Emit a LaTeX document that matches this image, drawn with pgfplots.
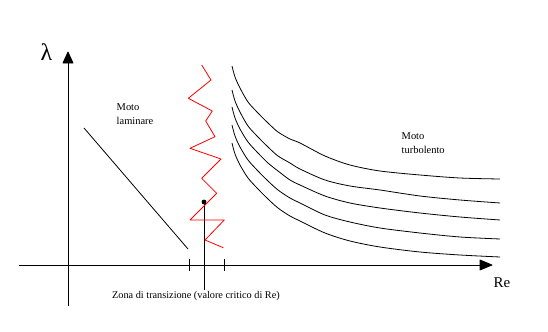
\documentclass[border=0pt]{standalone}
\usepackage{pgfplots}
\pgfplotsset{compat=1.18}
\usepackage{fontspec}
\setmainfont{Liberation Serif}
\begin{document}
\begin{tikzpicture}
\begin{axis}[
  width=548bp, height=332bp, scale only axis,
  xmin=0, xmax=548, ymin=0, ymax=332, y dir=reverse,
  hide axis, clip=false,
  every axis plot/.append style={line width=0.8bp, line join=round},
]
% bounding box
\addplot[draw=none] coordinates {(0,0) (548,332)};
% axes
\addplot[black, line width=1bp] coordinates {(19,265) (482,265)};
\addplot[black, line width=1bp] coordinates {(68,306) (68,60)};
\addplot[black, fill=black] coordinates {(480,260) (492,265) (480,270)} -- cycle;
\addplot[black, fill=black] coordinates {(63,63) (68,52) (73,63)} -- cycle;
% ticks
\addplot[black] coordinates {(189.5,259) (189.5,271)};
\addplot[black] coordinates {(224.5,259) (224.5,271)};
% critical line
\addplot[black] coordinates {(204,202) (204,290)};
\addplot[only marks, mark=*, mark size=2bp, black] coordinates {(204,202)};
% laminar
\addplot[black] coordinates {(84,128) (188,249)};
% transition zigzag
\addplot[red] coordinates {(201.7,65) (211,80) (188.3,98.3) (212.3,111) (205.7,121) (215,136.7) (190,148.3) (221,159) (201.7,178.3) (216.7,193.3) (190,220) (224.3,220) (205,240) (223.3,247.7)};
% turbulent curves
\addplot[black, smooth, tension=0.5] coordinates {(232,66) (235,77) (240,88) (248,102) (258,113) (268,123) (278,132) (290,139) (300,143) (325,156) (350,165) (380,171) (420,175) (460,178) (500,179)};
\addplot[black, smooth, tension=0.5] coordinates {(232,90) (235,101) (240,112) (248,126) (258,137) (268,147) (278,156) (290,163) (300,169) (325,180) (350,186) (380,190) (420,196) (460,200) (500,203)};
\addplot[black, smooth, tension=0.5] coordinates {(232,107) (235,118) (240,129) (248,142) (258,153) (268,163) (278,171) (290,180) (300,185) (325,196) (350,203) (380,208) (420,213) (460,217) (500,220)};
\addplot[black, smooth, tension=0.5] coordinates {(232,125) (235,136) (240,147) (248,160) (258,171) (268,181) (278,190) (290,198) (300,203) (325,215) (350,222) (380,228) (420,233) (460,237) (500,239)};
\addplot[black, smooth, tension=0.5] coordinates {(232,143) (235,154) (240,165) (248,178) (258,189) (268,199) (278,208) (290,216) (300,221) (325,233) (350,241) (380,247) (420,252) (460,255) (500,257)};
% labels
\node[font=\fontsize{24}{24}\selectfont, inner sep=0pt] at (axis cs:46.5,52) {λ};
\node[font=\fontsize{10.5}{15}\selectfont, anchor=north west, align=left, inner sep=0pt] at (axis cs:116.5,103) {Moto\\laminare};
\node[font=\fontsize{10.5}{15}\selectfont, anchor=north west, align=left, inner sep=0pt] at (axis cs:401.5,132) {Moto\\turbolento};
\node[font=\fontsize{10.3}{12}\selectfont, anchor=west, inner sep=0pt] at (axis cs:112,296) {Zona di transizione (valore critico di Re)};
\node[font=\fontsize{15}{15}\selectfont, inner sep=0pt] at (axis cs:502,283) {Re};
\end{axis}
\end{tikzpicture}
\end{document}
